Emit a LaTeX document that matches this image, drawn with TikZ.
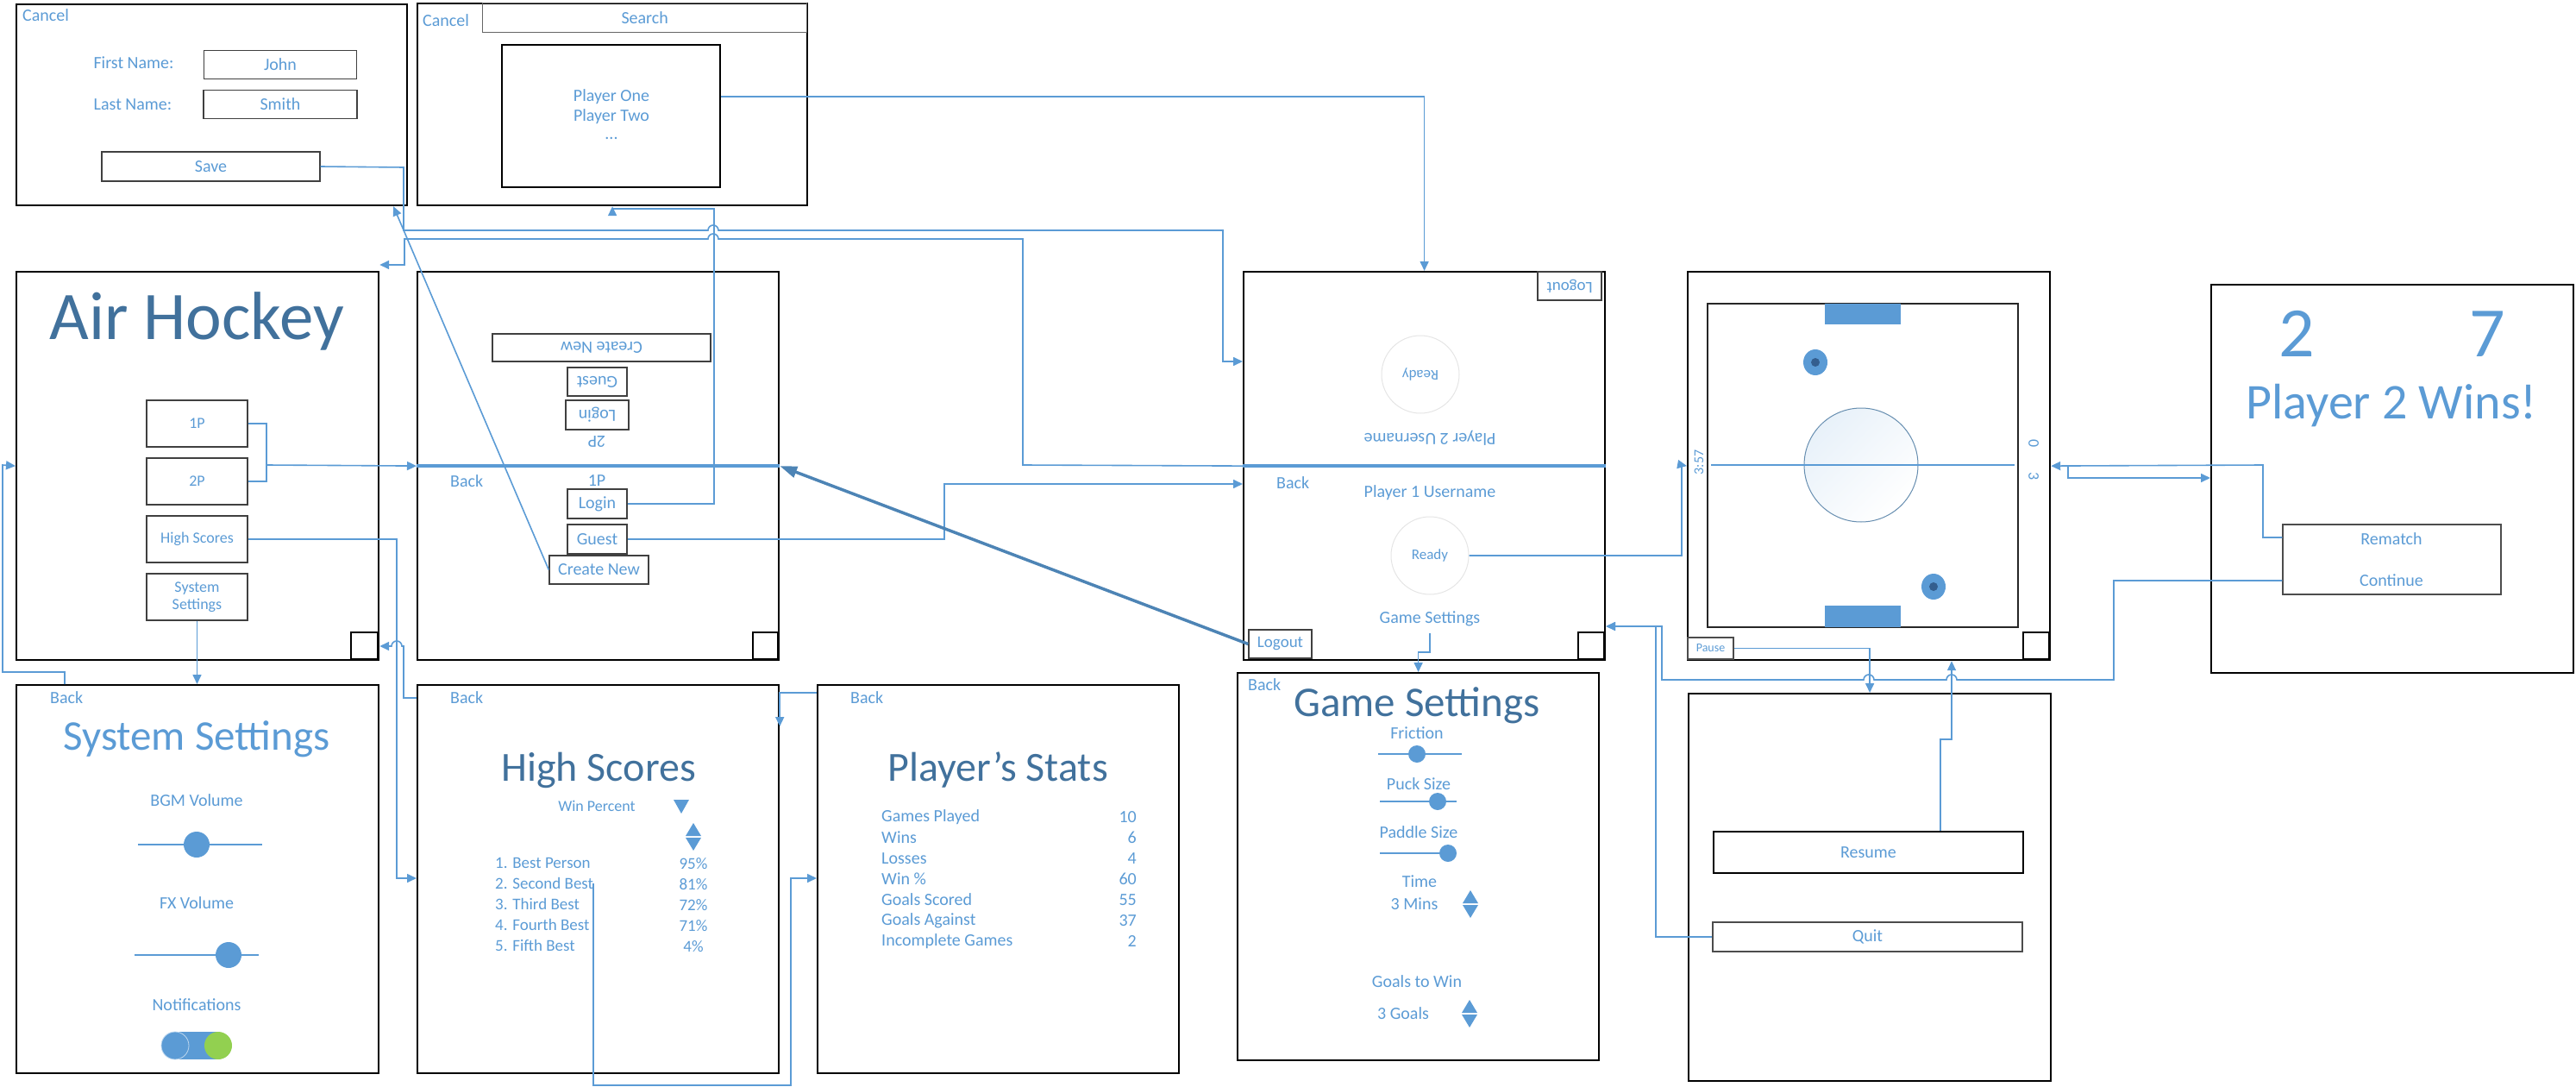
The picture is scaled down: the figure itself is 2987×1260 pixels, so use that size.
\documentclass[tikz,border=0pt]{standalone}
\usepackage{fontspec}
\setmainfont{Carlito}
\usepackage{tikz}
\usetikzlibrary{arrows.meta, positioning, calc}
\definecolor{uiblue}{RGB}{91, 155, 213}
\definecolor{uidark}{RGB}{65, 113, 156}
\definecolor{uigreen}{RGB}{146, 208, 80}
\definecolor{puckdark}{RGB}{52, 94, 142}
\newcommand{\fsz}[1]{\fontsize{#1}{#1}\selectfont}

\begin{document}
\begin{tikzpicture}[x=1pt, y=-1pt,
    screen/.style={draw=black, line width=2.2pt, inner sep=0pt, anchor=north west},
    btn/.style={draw=black!75, line width=1.4pt, inner sep=0pt, text=uiblue, font=\fsz{20}},
    lbl/.style={text=uiblue, font=\fsz{20}, inner sep=0pt},
    head/.style={text=uidark, font=\fsz{49}, inner sep=0pt, anchor=base},
    link/.style={draw=uiblue, line width=1.6pt, -{Triangle[length=11pt, width=10pt]}},
    thicklink/.style={draw=uiblue!85!black, line width=3.5pt, -{Triangle[length=20pt, width=13pt]}},
    wire/.style={draw=uiblue, line width=1.6pt},
    bar/.style={draw=uiblue, line width=4.3pt},
    corner/.style={draw=black, line width=1.8pt},
    track/.style={draw=uiblue, line width=2pt},
    knob/.style={circle, fill=uiblue, inner sep=0pt, minimum size=#1},
    readyc/.style={circle, draw=black!10, line width=1pt, minimum size=90pt, inner sep=0pt, text=uiblue, font=\fsz{17}},
    spinner/.pic={
        \fill[uiblue] (-9,-1) -- (9,-1) -- (0,-16) -- cycle;
        \fill[uiblue] (-9,1) -- (9,1) -- (0,16) -- cycle;
    },
    puck/.pic={
        \fill[uiblue] (0,0) ellipse[x radius=14pt, y radius=15pt];
        \fill[puckdark] (0,0) circle[radius=5pt];
    }
]
\useasboundingbox (0,0) rectangle (2987,1260);

% screens
\node[screen, minimum width=453pt, minimum height=233pt] (acct) at (18,4) {};
\node[screen, minimum width=452pt, minimum height=234pt] (search) at (483,3) {};
\node[screen, minimum width=420pt, minimum height=450pt] (menu) at (18,314) {};
\node[screen, minimum width=419pt, minimum height=450pt] (login) at (483,314) {};
\node[screen, minimum width=419pt, minimum height=450pt] (lobby) at (1441,314) {};
\node[screen, minimum width=420pt, minimum height=450pt] (game) at (1956,314) {};
\node[screen, minimum width=420pt, minimum height=450pt] (win) at (2563,329) {};
\node[screen, minimum width=420pt, minimum height=450pt] (sys) at (18,793) {};
\node[screen, minimum width=419pt, minimum height=450pt] (scores) at (483,793) {};
\node[screen, minimum width=419pt, minimum height=450pt] (stats) at (947,793) {};
\node[screen, minimum width=419pt, minimum height=449pt] (gset) at (1434,779) {};
\node[screen, minimum width=420pt, minimum height=449pt] (pause) at (1957,803) {};

% new account
\node[lbl, anchor=west] (acctcancel) at (26,18) {Cancel};
\node[lbl] (firstlbl) at (155,73) {First Name:};
\node[btn, minimum width=177pt, minimum height=33pt] (john) at (325,75) {John};
\node[lbl] (lastlbl) at (154,121) {Last Name:};
\node[btn, minimum width=178pt, minimum height=33pt] (smith) at (325,121) {Smith};
\node[btn, minimum width=253pt, minimum height=34pt] (save) at (244.5,193) {Save};

% search
\node[lbl, anchor=west] (searchcancel) at (490,24) {Cancel};
\node[btn, draw=black!60, anchor=north west, minimum width=376pt, minimum height=34pt] (sbar) at (559,3) {Search};
\node[draw=black, line width=1.4pt, minimum width=253pt, minimum height=165pt] (plist) at (708.5,134.5) {};
\node[lbl] (pone) at (709,112) {Player One};
\node[lbl] (ptwo) at (709,135) {Player Two};
\node[lbl] (pmore) at (709,160) {...};

% main menu
\node[head, font=\fsz{79}] (apptitle) at (228,393) {Air Hockey};
\node[btn, font=\fsz{18}, minimum width=117pt, minimum height=54pt] (p1) at (228.5,491) {1P};
\node[btn, font=\fsz{18}, minimum width=117pt, minimum height=54pt] (p2) at (228.5,558) {2P};
\node[btn, font=\fsz{18}, minimum width=117pt, minimum height=54pt] (hsbtn) at (228.5,625) {High Scores};
\node[btn, font=\fsz{18}, align=center, minimum width=117pt, minimum height=54pt] (sysbtn) at (228.5,692) {System\\[2pt]Settings};
\draw[corner] (407,733) rectangle ++(31,31);

% login choice
\draw[bar] (login.west) -- (login.east);
\node[lbl, anchor=west] (loginback) at (522,558) {Back};
\node[lbl] (onep) at (692,557) {1P};
\node[btn, minimum width=69pt, minimum height=34pt] (loginbtn) at (692.5,584) {Login};
\node[btn, minimum width=69pt, minimum height=34pt] (guestbtn) at (692.5,625) {Guest};
\node[btn, minimum width=115pt, minimum height=33pt] (newbtn) at (694.5,660.5) {Create New};
\node[lbl, rotate=180] (twop) at (692,512) {2P};
\node[btn, rotate=180, minimum width=73pt, minimum height=34pt] (loginbtnb) at (692.5,481) {Login};
\node[btn, rotate=180, minimum width=69pt, minimum height=33pt] (guestbtnb) at (692.5,442.5) {Guest};
\node[btn, rotate=180, minimum width=253pt, minimum height=32pt] (newbtnb) at (697.5,403) {Create New};
\draw[corner] (873,733) rectangle ++(29,31);

% lobby
\node[btn, rotate=180, font=\fsz{19}, minimum width=74pt, minimum height=33pt] (logoutb) at (1820,331.5) {Logout};
\node[readyc, rotate=180] (readyb) at (1647,434) {Ready};
\node[lbl, rotate=180] (ptwoname) at (1658,508) {Player 2 Username};
\draw[bar] (lobby.west) -- (lobby.east);
\node[lbl, anchor=west] (lobbyback) at (1480,560) {Back};
\node[lbl] (ponename) at (1658,571) {Player 1 Username};
\node[readyc] (ready1) at (1658,644) {Ready};
\node[lbl] (gslabel) at (1658,717) {Game Settings};
\node[btn, font=\fsz{19}, minimum width=73pt, minimum height=33pt] (logout) at (1484.5,746.5) {Logout};
\draw[corner] (1830,733) rectangle ++(30,31);

% game
\draw[black!85, line width=1.3pt] (1980,352) rectangle (2340,727);
\fill[uiblue] (2116,352) rectangle (2204,376);
\fill[uiblue] (2116,702) rectangle (2204,727);
\draw[uidark!80, line width=1pt, top color=uiblue!14, bottom color=white, shading angle=45] (2158,539) circle[radius=66pt];
\draw[uiblue, line width=1.5pt] (1984,539) -- (2336,539);
\pic at (2105,420) {puck};
\pic at (2242,680) {puck};
\node[lbl, font=\fsz{16}, rotate=90] (clock) at (1970,536) {3:57};
\node[lbl, font=\fsz{18}, rotate=-90] (scoretop) at (2358,514) {0};
\node[lbl, font=\fsz{18}, rotate=-90] (scorebot) at (2358,552) {3};
\node[btn, draw=black!70, line width=1.1pt, font=\fsz{14}, minimum width=53pt, minimum height=25pt] (pausebtn) at (1983.5,751.5) {Pause};
\draw[corner] (2346,733) rectangle ++(30,31);

% result
\node[head, font=\fsz{82}, text=uiblue] (goalsa) at (2663,413) {2};
\node[head, font=\fsz{82}, text=uiblue] (goalsb) at (2884,413) {7};
\node[head, font=\fsz{58}, text=uiblue] (winner) at (2773,485) {Player 2 Wins!};
\node[btn, draw=black!70, minimum width=253pt, minimum height=81pt] (endbox) at (2773.5,648.5) {};
\node[lbl] (rematch) at (2773,625) {Rematch};
\node[lbl] (continue) at (2773,673) {Continue};

% system settings
\node[lbl, anchor=west] (sysback) at (58,809) {Back};
\node[head, text=uiblue] (systitle) at (228,869) {System Settings};
\node[lbl] (bgm) at (228,928) {BGM Volume};
\draw[track] (160,979) -- (304,979);
\node[knob=30pt] (bgmknob) at (228,979) {};
\node[lbl] (fx) at (228,1047) {FX Volume};
\draw[track] (156,1107) -- (300,1107);
\node[knob=30pt] (fxknob) at (265,1107) {};
\node[lbl] (notif) at (228,1165) {Notifications};
\fill[uiblue] (203,1196) rectangle (253,1228);
\draw[fill=uiblue, draw=white!60!uiblue, line width=0.8pt] (203,1212) circle[radius=16pt];
\fill[uigreen] (253,1212) circle[radius=16pt];

% high scores
\node[lbl, anchor=west] (scoreback) at (522,809) {Back};
\node[head, font=\fsz{48}] (hstitle) at (694,905) {High Scores};
\node[lbl, font=\fsz{18}] (sortby) at (692,934) {Win Percent};
\fill[uiblue] (781,927) -- (799,927) -- (790,943) -- cycle;
\pic at (804,970) {spinner};
\foreach \who/\pct [count=\i] in {1. Best Person/95\%, 2. Second Best/81\%, 3. Third Best/72\%, 4. Fourth Best/71\%, 5. Fifth Best/4\%} {
    \node[lbl, font=\fsz{19}, anchor=west] (rank\i) at (574,976+24*\i) {\who};
    \node[lbl, font=\fsz{19}] (pct\i) at (804,977+24*\i) {\pct};
}

% player stats
\node[lbl, anchor=west] (statback) at (986,809) {Back};
\node[head, font=\fsz{48}] (sttitle) at (1157,905) {Player's Stats};
\foreach \stat/\val [count=\i] in {Games Played/10, Wins/6, Losses/4, Win \%/60, Goals Scored/55, Goals Against/37, Incomplete Games/2} {
    \node[lbl, anchor=west] (stat\i) at (1022,923+24*\i) {\stat};
    \node[lbl, anchor=east] (val\i) at (1318,923+24*\i) {\val};
}

% game settings
\node[lbl, anchor=west] (gsback) at (1447,794) {Back};
\node[head] (gstitle) at (1643,830) {Game Settings};
\node[lbl] (friction) at (1643,850) {Friction};
\draw[track] (1598,874) -- (1695,874);
\node[knob=20pt] (frknob) at (1643,874) {};
\node[lbl] (pucksize) at (1645,909) {Puck Size};
\draw[track] (1600,929) -- (1689,929);
\node[knob=20pt] (pkknob) at (1667,929) {};
\node[lbl] (paddlesize) at (1645,965) {Paddle Size};
\draw[track] (1600,989) -- (1689,989);
\node[knob=20pt] (pdknob) at (1679,989) {};
\node[lbl] (timelbl) at (1646,1022) {Time};
\node[lbl] (timeval) at (1640,1048) {3 Mins};
\pic at (1705,1048) {spinner};
\node[lbl] (goallbl) at (1643,1138) {Goals to Win};
\node[lbl] (goalval) at (1627,1175) {3 Goals};
\pic at (1704,1175) {spinner};

% pause menu
\node[btn, draw=black, minimum width=359pt, minimum height=48pt] (resume) at (2166.5,988) {Resume};
\node[btn, draw=black!70, minimum width=359pt, minimum height=34pt] (quitbtn) at (2165.5,1086) {Quit};

% links
\draw[link] (save.east) -- (468,194) -- (468,267) -- (821,267) arc[start angle=180, end angle=0, radius=6pt] -- (1418,267) -- (1418,419) -- (lobby.west |- 0,419);
\draw[link] (lobby.west) -- (1186,539) -- (1186,277) -- (833,277) arc[start angle=0, end angle=180, radius=6pt] -- (469,277) -- (469,307) -- (menu.north east |- 0,307);
\draw[link] (plist.east |- 0,112) -| (lobby.north);
\draw[link] (loginbtn.east) -| (828,242) -| (search.south);
\draw[link] (guestbtn.east) -| (1095,561) -- (lobby.west |- 0,561);
\draw[link] (newbtn.west) -- ([xshift=-17pt]acct.south east);
\coordinate (join) at (309,539);
\draw[wire] (p1.east) -| (join);
\draw[wire] (p2.east) -| (join);
\draw[link] (join) -- (login.west);
\draw[link] (hsbtn.east) -| (460,1018) -- (scores.west |- 0,1018);
\draw[link] (scores.west |- 0,809) -- (468,809) -- (468,749) -- (466,749) arc[start angle=0, end angle=180, radius=6pt] -- (menu.east |- 0,749);
\draw[link] (sysbtn.south) -- (sysbtn.south |- sys.north);
\draw[link] (sys.north west -| 75,0) -- (75,779) -- (3,779) -- (3,539) -- (menu.west);
\draw[link] (rank2.east) -- (rank2.east |- 0,1258) -| (917,1018) -- (stats.west |- 0,1018);
\draw[link] (stats.west |- 0,803) -- (scores.east |- 0,803) -- (scores.east |- 0,842);
\draw[thicklink] (logout.west) -- (login.east);
\draw[link] ([yshift=-8pt]gslabel.south) |- (gset.north |- 0,756) -- (gset.north);
\draw[link] (ready1.east) -- (1950,644) -- (1950,539) -- (game.west);
\draw[link] (pausebtn.east) -| (pause.north);
\draw[link] (resume.north -| 2250,0) -- (2250,857) -- (2263,857) -- (game.south -| 2263,0);
\draw[link] (endbox.west |- 0,623) -- (2624,623) -- (2624,539) -- (game.east);
\coordinate (split) at (2398,539);
\draw[link] (split) -- (2398,554) -- (win.west |- 0,554);
\draw[link] (quitbtn.west) -- (1920,1086) -- (1920,726) -- (lobby.east |- 0,726);
\draw[link] (endbox.west |- 0,673) -- (2451,673) -- (2451,788) -- (2269,788) arc[start angle=0, end angle=180, radius=6pt] -- (2173,788) arc[start angle=0, end angle=180, radius=6pt] -- (1927,788) -- (1927,726) -- (lobby.east |- 0,726);
\end{tikzpicture}
\end{document}
